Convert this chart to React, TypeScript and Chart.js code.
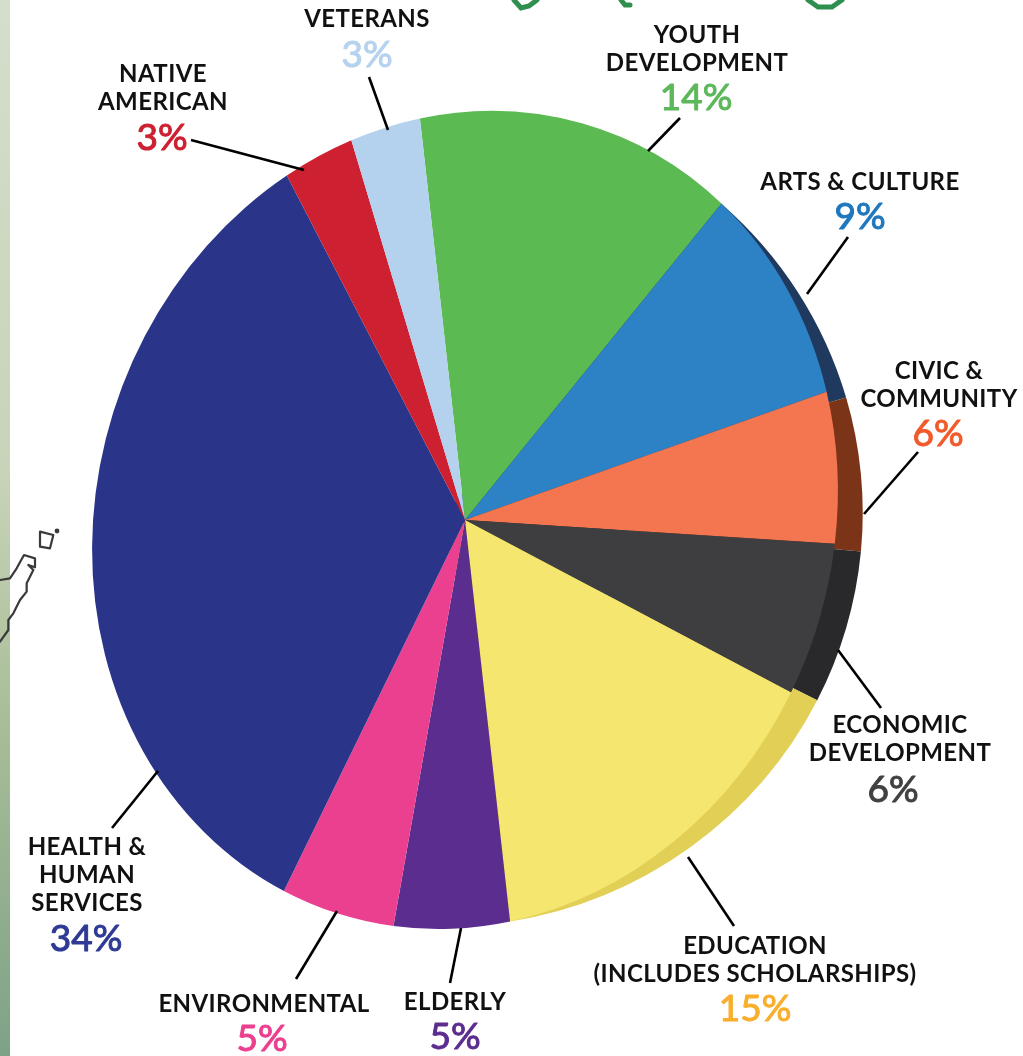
import React, { useEffect, useRef } from "react";
import { Chart, registerables } from "chart.js";

Chart.register(...registerables);

// ---- data ----
const categories = [
  "Youth Development",
  "Arts & Culture",
  "Civic & Community",
  "Economic Development",
  "Education (Includes Scholarships)",
  "Elderly",
  "Environmental",
  "Health & Human Services",
  "Native American",
  "Veterans",
];
const shares = [14, 9, 6, 6, 15, 5, 5, 34, 3, 3];
const sliceColors = [
  "#5cba52", "#2d82c6", "#f37650", "#3e3e40", "#f4e66e",
  "#5b2d8f", "#ea408f", "#2a3589", "#cd2030", "#b4d1ee",
];
const edgeColors = [
  null, "#1f3a5e", "#7c3418", "#29292b", "#e2cf55",
  null, null, null, null, null,
];
const percentColors = [
  "#5cb85a", "#1f77bd", "#f15a2b", "#414143", "#f9ae2c",
  "#5b2d8f", "#ec3f8f", "#2e3a94", "#cd2030", "#b5d2ee",
];
const labelLines = [
  ["YOUTH", "DEVELOPMENT"],
  ["ARTS & CULTURE"],
  ["CIVIC &", "COMMUNITY"],
  ["ECONOMIC", "DEVELOPMENT"],
  ["EDUCATION", "(INCLUDES SCHOLARSHIPS)"],
  ["ELDERLY"],
  ["ENVIRONMENTAL"],
  ["HEALTH &", "HUMAN", "SERVICES"],
  ["NATIVE", "AMERICAN"],
  ["VETERANS"],
];

// ---- layout (not data) ----
const W = 1023;
const H = 1056;
const CX = 465;
const CY = 520;
const R = 300;
// label anchor: [text centre x, first baseline y, percent centre x, percent baseline y]
const labelAnchors = [
  [697, 43, 696, 110],
  [860, 190, 860, 229],
  [939, 379, 938, 446],
  [900, 733, 893, 802],
  [755, 954, 755, 1021],
  [455, 1010, 455, 1049],
  [264, 1012, 262, 1051],
  [87, 855, 86, 951],
  [163, 82, 162, 150],
  [367, 27, 367, 67],
];
const leaders = [
  [680, 118, 648, 151],
  [848, 237, 807, 294],
  [918, 452, 864, 514],
  [838, 650, 881, 708],
  [688, 857, 734, 926],
  [461, 928, 450, 983],
  [337, 911, 296, 979],
  [158, 771, 112, 828],
  [191, 140, 304, 170],
  [369, 77, 388, 130],
];

// Tilted face: the circle is drawn through a symmetric matrix, giving a rotated ellipse.
const e1 = [0.946, 0.324];
const e2 = [-0.324, 0.946];
const semiMinor = 367.9;
const semiMajor = 413.7;

function applyFace(ctx: CanvasRenderingContext2D, x: number, y: number, r: number) {
  const a = semiMinor / r;
  const b = semiMajor / r;
  const m11 = a * e1[0] * e1[0] + b * e2[0] * e2[0];
  const m12 = a * e1[0] * e1[1] + b * e2[0] * e2[1];
  const m22 = a * e1[1] * e1[1] + b * e2[1] * e2[1];
  ctx.translate(x, y);
  ctx.transform(m11, m12, m12, m22, 0, 0);
  ctx.translate(-x, -y);
}

// Side wall: the face stretched away from a chord, so it emerges only on the lower right.
const wallNormal = [0.958, 0.286];
const wallChord = 159;
const wallStretch = 0.135;

function applyWall(ctx: CanvasRenderingContext2D, x: number, y: number) {
  const [nx, ny] = wallNormal;
  const k = wallStretch;
  const tx = -k * wallChord * nx;
  const ty = -k * wallChord * ny;
  ctx.translate(x, y);
  ctx.transform(1 + k * nx * nx, k * nx * ny, k * nx * ny, 1 + k * ny * ny, tx, ty);
  ctx.translate(-x, -y);
}

const scriptStrokes = [
  [[514, 0], [521, 8], [529, 6], [537, 0]],
  [[621, 0], [625, 5], [630, 5]],
  [[808, 0], [818, 7], [832, 7], [842, 0]],
];
const mapOutline = [
  [0, 300], [30, 295], [50, 265], [72, 225], [105, 235], [105, 262], [85, 255], [100, 270],
  [80, 310], [80, 335], [60, 360], [40, 400], [25, 420], [25, 450], [0, 485],
];
const mapIsle = [[120, 155], [160, 165], [150, 205], [120, 200]];

function tracePath(ctx: CanvasRenderingContext2D, pts: number[][], close = false) {
  ctx.beginPath();
  pts.forEach(([x, y], i) => (i ? ctx.lineTo(x / 3, y / 3 + 480) : ctx.moveTo(x / 3, y / 3 + 480)));
  if (close) ctx.closePath();
  ctx.stroke();
}

const piePlugin = {
  id: "tiltedPie",
  beforeDraw(chart: any) {
    const ctx: CanvasRenderingContext2D = chart.ctx;
    ctx.save();
    ctx.fillStyle = "#ffffff";
    ctx.fillRect(0, 0, W, H);
    const g = ctx.createLinearGradient(0, 0, 0, H);
    g.addColorStop(0, "#d5decb");
    g.addColorStop(0.45, "#c8d3b8");
    g.addColorStop(0.68, "#a9be98");
    g.addColorStop(1, "#7ea287");
    ctx.fillStyle = g;
    ctx.fillRect(0, 0, 10, H);

    ctx.strokeStyle = "#2f8f4f";
    ctx.lineWidth = 5;
    ctx.lineCap = "round";
    scriptStrokes.forEach((s) => {
      ctx.beginPath();
      s.forEach(([x, y], i) => (i ? ctx.lineTo(x, y) : ctx.moveTo(x, y)));
      ctx.stroke();
    });

    ctx.strokeStyle = "#3a3a3a";
    ctx.lineWidth = 2.2;
    ctx.lineJoin = "round";
    tracePath(ctx, mapOutline);
    tracePath(ctx, mapIsle, true);
    ctx.fillStyle = "#3a3a3a";
    ctx.beginPath();
    ctx.arc(57, 531, 2.4, 0, Math.PI * 2);
    ctx.fill();
    ctx.restore();
  },
  beforeDatasetDraw(chart: any, args: any) {
    const ctx: CanvasRenderingContext2D = chart.ctx;
    const arcs = chart.getDatasetMeta(args.index).data;
    const { x, y, outerRadius } = arcs[0];
    // side wall first, using the same arc elements in their darker colours
    arcs.forEach((arc: any, i: number) => {
      if (!edgeColors[i]) return;
      const saved = arc.options;
      arc.options = {
        backgroundColor: edgeColors[i],
        borderColor: edgeColors[i],
        borderWidth: 0,
        borderAlign: "center",
        borderJoinStyle: "round",
        borderDash: [],
        borderDashOffset: 0,
        borderRadius: 0,
        offset: 0,
        spacing: 0,
        circular: true,
      };
      ctx.save();
      applyWall(ctx, CX, CY);
      applyFace(ctx, x, y, outerRadius);
      arc.draw(ctx);
      ctx.restore();
      arc.options = saved;
    });
    ctx.save();
    applyFace(ctx, x, y, outerRadius);
  },
  afterDatasetDraw(chart: any) {
    chart.ctx.restore();
  },
  afterDraw(chart: any) {
    const ctx: CanvasRenderingContext2D = chart.ctx;
    ctx.save();
    ctx.strokeStyle = "#000000";
    ctx.lineWidth = 2.6;
    ctx.lineCap = "butt";
    leaders.forEach(([x1, y1, x2, y2]) => {
      ctx.beginPath();
      ctx.moveTo(x1, y1);
      ctx.lineTo(x2, y2);
      ctx.stroke();
    });
    ctx.textAlign = "center";
    ctx.textBaseline = "alphabetic";
    ctx.lineJoin = "round";
    categories.forEach((_, i) => {
      const [tx, ty, px, py] = labelAnchors[i];
      ctx.fillStyle = "#111111";
      ctx.font = '700 24px Lato, sans-serif';
      (ctx as any).letterSpacing = "0.4px";
      labelLines[i].forEach((line, j) => ctx.fillText(line, tx, ty + j * 28));
      ctx.fillStyle = percentColors[i];
      ctx.strokeStyle = percentColors[i];
      ctx.lineWidth = 1;
      ctx.font = '400 37px Lato, sans-serif';
      (ctx as any).letterSpacing = "0px";
      ctx.fillText(`${shares[i]}%`, px, py);
      ctx.strokeText(`${shares[i]}%`, px, py);
    });
    ctx.restore();
  },
};

export default function App() {
  const ref = useRef<HTMLCanvasElement | null>(null);
  useEffect(() => {
    document.body.style.margin = "0";
    const chart = new Chart(ref.current as HTMLCanvasElement, {
      type: "pie",
      data: {
        labels: categories,
        datasets: [
          {
            data: shares,
            backgroundColor: sliceColors,
            borderWidth: 0,
            clip: false,
          } as any,
        ],
      },
      options: {
        responsive: false,
        animation: false,
        rotation: -9.1,
        layout: {
          padding: { left: CX - R, top: CY - R, right: W - CX - R, bottom: H - CY - R },
        },
        plugins: { legend: { display: false }, tooltip: { enabled: false } },
      },
      plugins: [piePlugin],
    });
    return () => chart.destroy();
  }, []);
  return <canvas ref={ref} width={W} height={H} style={{ display: "block" }} />;
}
